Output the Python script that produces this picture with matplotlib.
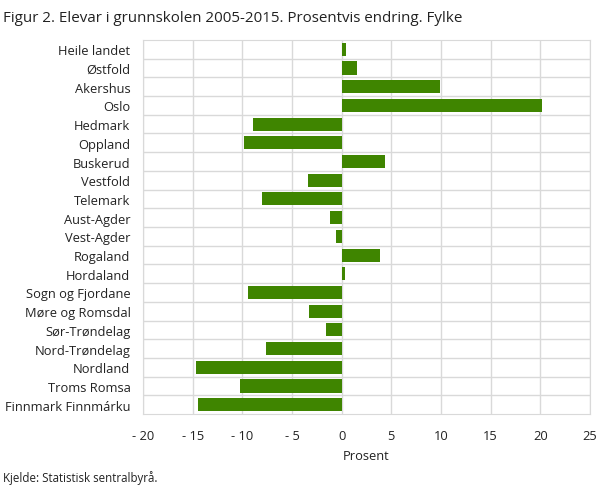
import matplotlib
matplotlib.use('Agg')
import matplotlib.pyplot as plt

plt.rcParams['font.family'] = ['Open Sans', 'DejaVu Sans']

# Fylke, top to bottom
fylker = ['Heile landet', 'Østfold', 'Akershus', 'Oslo', 'Hedmark', 'Oppland',
          'Buskerud', 'Vestfold', 'Telemark', 'Aust-Agder', 'Vest-Agder',
          'Rogaland', 'Hordaland', 'Sogn og Fjordane', 'Møre og Romsdal',
          'Sør-Trøndelag', 'Nord-Trøndelag', 'Nordland', 'Troms Romsa',
          'Finnmark Finnmárku']
endring = [0.4, 1.5, 9.9, 20.2, -8.9, -9.8, 4.4, -3.4, -8.0, -1.2, -0.6,
           3.9, 0.3, -9.4, -3.3, -1.6, -7.6, -14.7, -10.2, -14.5]
xticks = [-20, -15, -10, -5, 0, 5, 10, 15, 20, 25]


def fit_size(fig, s, size, target_w):
    # scale font size so the text is target_w pixels wide
    r = fig.canvas.get_renderer()
    t = fig.text(0, 0, s, fontsize=size)
    w = t.get_window_extent(renderer=r).width
    t.remove()
    return size * target_w / w


fig = plt.figure(figsize=(6.09, 4.89), dpi=100)
ax = fig.add_axes([0.2348, 0.1513, 0.7340, 0.7649])

lab_size = fit_size(fig, 'Finnmark Finnmárku', 9, 127)
title = 'Figur 2. Elevar i grunnskolen 2005-2015. Prosentvis endring. Fylke'
title_size = fit_size(fig, title, 11, 460)
src = 'Kjelde: Statistisk sentralbyrå.'
src_size = fit_size(fig, src, 8, 156)

ypos = list(range(len(fylker)))
ax.barh(ypos, endring, height=0.7, color='#3f8500', zorder=3)

ax.set_ylim(len(fylker) - 0.5, -0.5)
ax.set_xlim(-20, 25)
ax.set_yticks(ypos)
ax.set_yticklabels(fylker, fontsize=lab_size, color='#222222')
ax.set_xticks(xticks)
ax.set_xticklabels([('- %d' % -v) if v < 0 else str(v) for v in xticks],
                   fontsize=lab_size, color='#222222')

# row separators
ax.set_yticks([y + 0.5 for y in ypos[:-1]], minor=True)
ax.grid(True, axis='x', color='#d9d9d9', linewidth=1, zorder=0)
ax.grid(True, axis='y', which='minor', color='#d9d9d9', linewidth=1, zorder=0)
ax.tick_params(axis='both', which='both', length=0)
ax.tick_params(axis='x', pad=11)
ax.tick_params(axis='y', pad=9)
for s in ax.spines.values():
    s.set_color('#d9d9d9')

ax.set_xlabel('Prosent', fontsize=lab_size, color='#222222', labelpad=5)

fig.text(0.005, 0.963, title, fontsize=title_size, color='#222222',
         va='center', ha='left')
fig.text(0.005, 0.022, src, fontsize=src_size, color='#222222',
         va='center', ha='left')

fig.savefig('out.png', dpi=100)
